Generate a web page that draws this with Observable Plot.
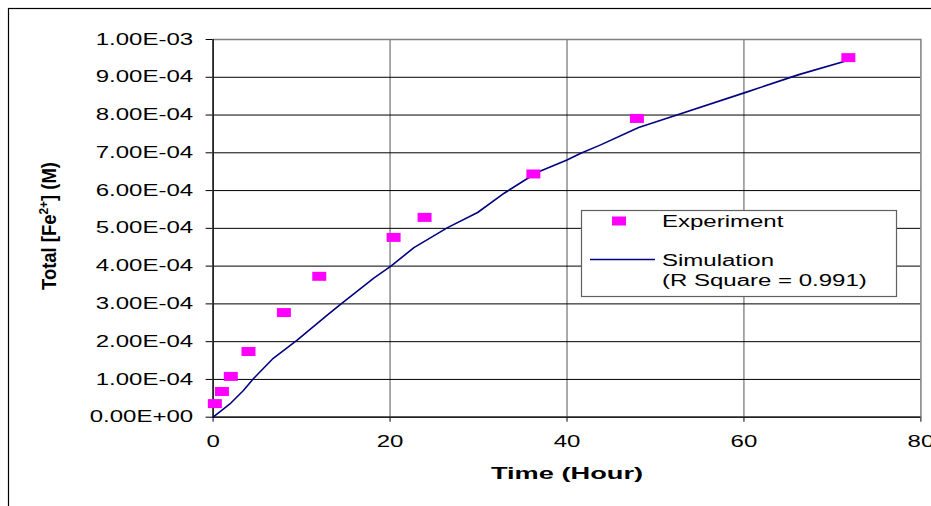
<!DOCTYPE html>
<html><head><meta charset="utf-8">
<script src="https://cdn.jsdelivr.net/npm/d3@7"></script>
<script src="https://cdn.jsdelivr.net/npm/@observablehq/plot@0.6"></script>
<style>
html,body{margin:0;padding:0;background:#fff;}
#chart{width:931px;height:506px;overflow:hidden;}
</style></head><body><div id="chart"></div>
<script>
// Experiment data (hours, M)
const expTime = [0.2, 1, 2, 4, 8, 12, 20.4, 23.9, 36.2, 47.9, 71.8];
const expFe = [3.6e-5, 6.8e-5, 1.08e-4, 1.74e-4, 2.77e-4, 3.73e-4, 4.76e-4, 5.29e-4, 6.44e-4, 7.91e-4, 9.52e-4];
// Simulation curve (hours, M)
const simTime = [0, 1.9, 3.4, 4.6, 6.8, 9.5, 12.9, 14.4, 18.2, 20.1, 22.7, 26.5, 29.9, 32.9, 36.6, 40.0, 41.5, 43.8, 48.1, 51.9, 60.2, 66.2, 71.9];
const simFe = [0, 3.5e-5, 7.0e-5, 1.03e-4, 1.56e-4, 2.04e-4, 2.70e-4, 2.99e-4, 3.69e-4, 4.0e-4, 4.49e-4, 5.02e-4, 5.42e-4, 5.93e-4, 6.48e-4, 6.81e-4, 6.98e-4, 7.21e-4, 7.67e-4, 7.96e-4, 8.60e-4, 9.07e-4, 9.46e-4];
// Ticks
const xTicks = [0, 20, 40, 60, 80];
const yTicks = [0, 1e-4, 2e-4, 3e-4, 4e-4, 5e-4, 6e-4, 7e-4, 8e-4, 9e-4, 1e-3];
const yTickLabels = ["0.00E+00","1.00E-04","2.00E-04","3.00E-04","4.00E-04","5.00E-04","6.00E-04","7.00E-04","8.00E-04","9.00E-04","1.00E-03"];
const xLabel = "Time (Hour)";
const yLabelParts = ["Total [Fe", "2+", "] (M)"];
const legendLabels = ["Experiment", "Simulation", "(R Square = 0.991)"];

const expData = expTime.map((t, i) => ({t, fe: expFe[i]}));
const simData = simTime.map((t, i) => ({t, fe: simFe[i]}));

const FONT = "'Liberation Sans', Arial, sans-serif";
const STRETCH = 1.5;
const rectSymbol = {draw(ctx) { ctx.rect(-7, -4.5, 14, 9); }};

const chart = Plot.plot({
  width: 931, height: 506,
  marginLeft: 212.6, marginRight: 10.6, marginTop: 39, marginBottom: 89.3,
  style: {fontFamily: FONT, fontSize: "16px", background: "#fff", color: "#000", overflow: "visible"},
  x: {domain: [0, 80], ticks: xTicks, tickSize: 5, tickPadding: 13, label: null},
  y: {domain: [0, 1e-3], ticks: yTicks, tickFormat: d => yTickLabels[yTicks.indexOf(d)], tickSize: 7, tickPadding: 13, label: null},
  marks: [
    Plot.ruleX(xTicks.slice(1, -1), {stroke: "#555", strokeWidth: 1}),
    Plot.ruleY(yTicks.slice(1, -1), {stroke: "#000", strokeWidth: 1}),
    Plot.frame({stroke: "#808080", strokeWidth: 1.5}),
    Plot.ruleX([0], {stroke: "#000", strokeWidth: 1.3}),
    Plot.ruleY([0], {stroke: "#000", strokeWidth: 1.3}),
    Plot.line(simData, {x: "t", y: "fe", stroke: "#000080", strokeWidth: 1.6}),
    Plot.dot(expData, {x: "t", y: "fe", symbol: rectSymbol, fill: "#ff00ff", stroke: "none"})
  ]
});
document.getElementById("chart").append(chart);

function stretch(sel, k = STRETCH) {
  sel.each(function() {
    const n = this.getComputedTextLength();
    this.setAttribute("textLength", n * k);
    this.setAttribute("lengthAdjust", "spacingAndGlyphs");
  });
  return sel;
}
const svg = d3.select(chart);
stretch(svg.selectAll('g[aria-label$="tick label"] text'));

// outer chart border
svg.append("rect").attr("x", 8.5).attr("y", 8.5).attr("width", 1000).attr("height", 1000)
  .attr("fill", "none").attr("stroke", "#000").attr("stroke-width", 1.2);

// x axis title
const xt = svg.append("text").attr("x", 567).attr("y", 479).attr("text-anchor", "middle")
  .attr("font-family", FONT).attr("font-weight", "bold").attr("font-size", 17).text(xLabel);
stretch(xt, 1.6);

// y axis title
const yt = svg.append("text").attr("transform", "translate(56,226) scale(1.2,1) rotate(-90)")
  .attr("text-anchor", "middle").attr("font-family", FONT).attr("font-weight", "bold")
  .attr("font-size", 17);
yt.append("tspan").text(yLabelParts[0]);
yt.append("tspan").attr("dy", -7).attr("font-size", 11).text(yLabelParts[1]);
yt.append("tspan").attr("dy", 7).text(yLabelParts[2]);
yt.attr("textLength", 128).attr("lengthAdjust", "spacingAndGlyphs");

// legend
const lg = svg.append("g");
lg.append("rect").attr("x", 581.5).attr("y", 210.5).attr("width", 315).attr("height", 86)
  .attr("fill", "#fff").attr("stroke", "#606060").attr("stroke-width", 1.2);
lg.append("path").attr("d", "M612,216.5h14v9h-14z").attr("fill", "#ff00ff");
lg.append("line").attr("x1", 590).attr("x2", 655).attr("y1", 259.5).attr("y2", 259.5)
  .attr("stroke", "#000080").attr("stroke-width", 1.6);
const lt = (txt, y) => stretch(lg.append("text").attr("x", 662).attr("y", y)
  .attr("text-anchor", "start").attr("font-family", FONT).attr("font-size", 16).text(txt));
lt(legendLabels[0], 227);
lt(legendLabels[1], 265.5);
lt(legendLabels[2], 285.5);
</script>
</body></html>
